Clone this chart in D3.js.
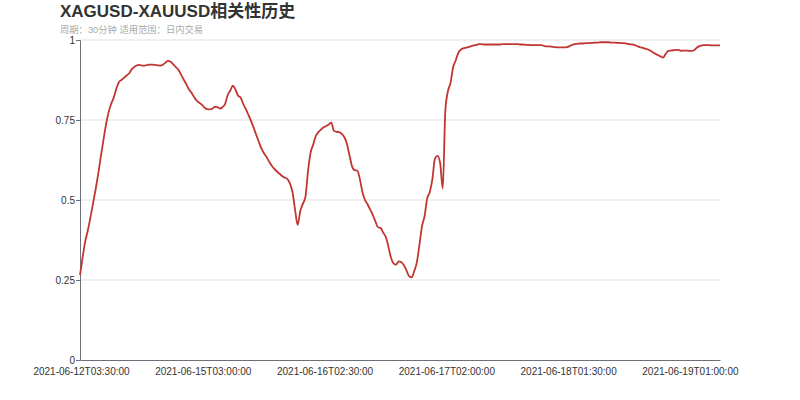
<!DOCTYPE html>
<html>
<head>
<meta charset="utf-8">
<script src="https://cdn.jsdelivr.net/npm/d3@7"></script>
<style>
  body { margin: 0; background: #fff; }
  svg { font-family: "Liberation Sans", Arial, sans-serif; }
</style>
</head>
<body>
<div id="chart"></div>
<script>
// correlation values, one per 30-minute bar
var corr = [
  0.265, 0.32, 0.37, 0.404, 0.444, 0.488, 0.532, 0.58, 0.634, 0.685,
  0.734, 0.773, 0.80, 0.82, 0.847, 0.868, 0.875, 0.882, 0.889, 0.896,
  0.909, 0.916, 0.921, 0.922, 0.920, 0.920, 0.922, 0.923, 0.923, 0.922,
  0.921, 0.920, 0.923, 0.929, 0.935, 0.932, 0.924, 0.915, 0.907, 0.892,
  0.877, 0.862, 0.846, 0.836, 0.822, 0.811, 0.804, 0.798, 0.789, 0.784,
  0.783, 0.785, 0.791, 0.790, 0.786, 0.790, 0.80, 0.828, 0.842, 0.857,
  0.845, 0.826, 0.82, 0.80, 0.784, 0.766, 0.747, 0.726, 0.704, 0.682,
  0.661, 0.646, 0.634, 0.620, 0.607, 0.597, 0.589, 0.582, 0.575, 0.570,
  0.566, 0.552, 0.525, 0.47, 0.422, 0.465, 0.488, 0.51, 0.59, 0.648,
  0.673, 0.70, 0.712, 0.72, 0.727, 0.731, 0.736, 0.742, 0.716, 0.713,
  0.712, 0.707, 0.697, 0.676, 0.64, 0.605, 0.593, 0.592, 0.566, 0.525,
  0.50, 0.486, 0.47, 0.453, 0.433, 0.415, 0.413, 0.398, 0.385, 0.355,
  0.320, 0.302, 0.298, 0.308, 0.306, 0.296, 0.280, 0.262, 0.258, 0.278,
  0.305, 0.36, 0.418, 0.45, 0.505, 0.525, 0.565, 0.63, 0.638, 0.615,
  0.536, 0.78, 0.84, 0.866, 0.915, 0.936, 0.96, 0.970, 0.974, 0.976,
  0.978, 0.981, 0.983, 0.985, 0.987, 0.987, 0.986, 0.986, 0.986, 0.986,
  0.986, 0.986, 0.986, 0.987, 0.987, 0.987, 0.987, 0.987, 0.987, 0.987,
  0.986, 0.986, 0.985, 0.985, 0.984, 0.984, 0.984, 0.984, 0.984, 0.982,
  0.980, 0.980, 0.979, 0.978, 0.977, 0.977, 0.977, 0.977, 0.978, 0.981,
  0.985, 0.987, 0.988, 0.989, 0.989, 0.990, 0.990, 0.991, 0.991, 0.992,
  0.992, 0.993, 0.993, 0.993, 0.993, 0.992, 0.992, 0.991, 0.991, 0.990,
  0.990, 0.989, 0.987, 0.986, 0.984, 0.981, 0.978, 0.976, 0.973, 0.971,
  0.967, 0.962, 0.957, 0.953, 0.949, 0.945, 0.956, 0.966, 0.967, 0.968,
  0.969, 0.969, 0.966, 0.967, 0.967, 0.966, 0.966, 0.968, 0.976, 0.981,
  0.983, 0.984, 0.984, 0.984, 0.983, 0.983, 0.983, 0.983
];

// labels shown on the category axis (every 47th bar)
var tickLabels = [
  "2021-06-12T03:30:00", "2021-06-15T03:00:00", "2021-06-16T02:30:00",
  "2021-06-17T02:00:00", "2021-06-18T01:30:00", "2021-06-19T01:00:00"
];
var tickEvery = 47;
var yTicks = [0, 0.25, 0.5, 0.75, 1];

var titleText = "XAGUSD-XAUUSD相关性历史";
var subText = "周期：30分钟 适用范围：日内交易";

var width = 800, height = 400;
var margin = { top: 40, right: 80, bottom: 40, left: 80 };

var svg = d3.select("#chart").append("svg")
  .attr("width", width)
  .attr("height", height);

var x = d3.scalePoint()
  .domain(d3.range(corr.length))
  .range([margin.left, width - margin.right]);

var y = d3.scaleLinear()
  .domain([0, 1])
  .range([height - margin.bottom, margin.top]);

// grid lines
svg.append("g")
  .selectAll("line")
  .data(yTicks.filter(function (d) { return d > 0; }))
  .enter().append("line")
  .attr("x1", margin.left)
  .attr("x2", width - margin.right)
  .attr("y1", function (d) { return y(d); })
  .attr("y2", function (d) { return y(d); })
  .attr("stroke", "#e0e0e0")
  .attr("stroke-width", 1);

// y axis
var yAxis = svg.append("g")
  .attr("transform", "translate(" + margin.left + ",0)")
  .call(d3.axisLeft(y).tickValues(yTicks).tickSize(4).tickFormat(d3.format("")));
yAxis.select(".domain").attr("stroke", "#6e7079");
yAxis.selectAll(".tick line").attr("stroke", "#6e7079");
yAxis.selectAll("text").attr("fill", "#333").style("font-size", "10px").attr("x", -5);

// x axis, labels only
var xAxis = svg.append("g")
  .attr("transform", "translate(0," + (height - margin.bottom) + ")")
  .call(d3.axisBottom(x)
    .tickValues(tickLabels.map(function (d, i) { return i * tickEvery; }))
    .tickSize(0)
    .tickFormat(function (d) { return tickLabels[d / tickEvery]; }));
xAxis.select(".domain").attr("stroke", "#6e7079");
xAxis.selectAll("text").attr("fill", "#333").style("font-size", "10px")
  .attr("dy", "0.95em").attr("y", 5).attr("dx", 1);

// correlation line
var line = d3.line()
  .x(function (d, i) { return x(i); })
  .y(function (d) { return y(d); })
  .curve(d3.curveMonotoneX);

svg.append("path")
  .datum(corr)
  .attr("fill", "none")
  .attr("stroke", "#c23531")
  .attr("stroke-width", 1.8)
  .attr("stroke-linejoin", "round")
  .attr("d", line);

// title
svg.append("text")
  .attr("x", 60)
  .attr("y", 17)
  .attr("fill", "#333")
  .style("font-size", "17px")
  .style("font-weight", "bold")
  .style("font-family", "'Liberation Sans', 'Noto Sans CJK SC', sans-serif")
  .text(titleText);

svg.append("text")
  .attr("x", 60)
  .attr("y", 33)
  .attr("fill", "#aaa")
  .style("font-size", "9.3px")
  .style("font-family", "'Liberation Sans', 'Noto Sans CJK SC', sans-serif")
  .text(subText);
</script>
</body>
</html>
